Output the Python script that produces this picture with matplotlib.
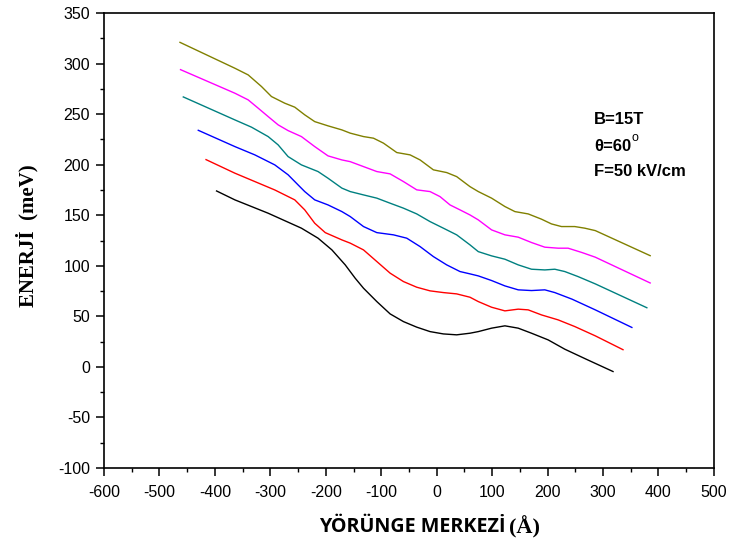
import matplotlib
matplotlib.use("Agg")
import matplotlib.pyplot as plt
from matplotlib.ticker import MultipleLocator

plt.rcParams["axes.unicode_minus"] = False

# Orbit centre (Å) and energy (meV) for each level
black_x = [-397, -364, -304, -244, -214, -189, -165, -147, -132, -108, -84, -60, -36, -12, 12, 36, 60, 75, 99, 123, 147, 171, 201, 231, 270, 318]
black_y = [174, 165.2, 152, 137.2, 127.3, 115.7, 100.9, 87.7, 77.8, 64.6, 52.4, 44.8, 39.3, 34.9, 32.6, 31.7, 33.3, 34.9, 38.3, 40.6, 38.3, 33.3, 26.7, 17.5, 7.5, -4.6]

red_x = [-416, -364, -328, -292, -256, -238, -220, -201, -171, -156, -132, -108, -84, -60, -36, -12, 12, 36, 60, 75, 99, 123, 147, 165, 189, 219, 249, 286, 336]
red_y = [205, 191.6, 183.3, 175, 165.2, 155.3, 142.1, 132.8, 125.6, 122.4, 115.7, 104.2, 92.7, 84.4, 78.8, 75.2, 73.5, 72.2, 68.9, 64.6, 59, 55.4, 57.1, 56.4, 51.4, 46.5, 39.9, 30.7, 17]

blue_x = [-430, -364, -328, -292, -268, -250, -238, -220, -196, -171, -156, -132, -108, -78, -54, -30, -6, 18, 42, 60, 75, 99, 123, 147, 171, 195, 213, 244, 286, 352]
blue_y = [234, 217.9, 209.7, 199.8, 190, 180, 173.4, 165.2, 160.2, 153.6, 148.7, 138.8, 132.8, 130.6, 127.3, 119, 109.1, 100.9, 94.3, 92, 90, 85.4, 80.1, 76.2, 75.5, 76.2, 73.5, 67, 56.4, 39]

teal_x = [-457, -364, -334, -304, -286, -268, -244, -214, -196, -171, -156, -132, -108, -84, -60, -36, -12, 12, 36, 60, 75, 99, 123, 147, 171, 195, 213, 231, 255, 286, 379]
teal_y = [267, 244.3, 237.1, 227.8, 219.6, 208, 199.8, 193.2, 186.6, 176.8, 173.4, 170.1, 166.9, 161.9, 157, 151.3, 143.7, 137.2, 130.6, 120.7, 114, 109.8, 106.5, 100.9, 96.6, 95.9, 96.6, 94.3, 89.3, 82.1, 58.5]

magenta_x = [-462, -364, -340, -322, -304, -286, -268, -244, -220, -196, -171, -156, -132, -108, -84, -60, -36, -12, 6, 24, 42, 60, 75, 99, 123, 147, 171, 195, 219, 237, 262, 286, 385]
magenta_y = [294, 270.7, 264.1, 255.9, 247.6, 239.4, 233.7, 227.8, 217.9, 208.7, 204.7, 203, 198.1, 193.2, 190.9, 183.3, 175.1, 173.4, 168.4, 160.2, 155.3, 150.3, 145.4, 135.5, 130.6, 128.3, 123, 118.4, 117.4, 117.4, 113.1, 108.5, 83]

olive_x = [-463, -364, -340, -316, -298, -274, -256, -238, -220, -196, -171, -156, -132, -114, -96, -72, -48, -30, -6, 18, 36, 60, 75, 99, 123, 141, 165, 189, 207, 225, 249, 267, 286, 385]
olive_y = [321, 295.4, 288.8, 277.3, 267.4, 260.8, 256.9, 249.3, 242.6, 238.4, 234.4, 231.2, 227.8, 226.2, 221.3, 212, 209.7, 204.7, 194.9, 192.2, 188.2, 178.3, 173.4, 166.9, 158.6, 153.6, 151.3, 146.1, 141.4, 138.8, 138.8, 137.2, 134.8, 110]

x_ticks = [-600, -500, -400, -300, -200, -100, 0, 100, 200, 300, 400, 500]
y_ticks = [-100, -50, 0, 50, 100, 150, 200, 250, 300, 350]

curves = [
    (black_x, black_y, "#000000"),
    (red_x, red_y, "#FF0000"),
    (blue_x, blue_y, "#0000FF"),
    (teal_x, teal_y, "#008080"),
    (magenta_x, magenta_y, "#FF00FF"),
    (olive_x, olive_y, "#808000"),
]

fig = plt.figure(figsize=(7.33, 5.52), dpi=100)
ax = fig.add_axes([0.1419, 0.1522, 0.8321, 0.8242])

for xs, ys, c in curves:
    ax.plot(xs, ys, color=c, lw=1.0, solid_joinstyle="round")

ax.set_xlim(-600, 500)
ax.set_ylim(-100, 350)
ax.set_xticks(x_ticks)
ax.set_yticks(y_ticks)
ax.xaxis.set_minor_locator(MultipleLocator(50))
ax.yaxis.set_minor_locator(MultipleLocator(25))
ax.tick_params(which="major", direction="out", length=6, width=1.1,
               labelsize=11.5, pad=4, top=False, right=False)
ax.tick_params(axis="x", which="major", pad=6)
ax.tick_params(which="minor", direction="out", length=3, width=1.0,
               top=False, right=False)
for lbl in ax.get_xticklabels() + ax.get_yticklabels():
    lbl.set_fontfamily("Liberation Sans")
for s in ax.spines.values():
    s.set_linewidth(1.2)

# Parameters of the calculation
x0 = 594 / 733
fig.text(x0, 1 - 120 / 552, "B=15T", fontsize=12, fontweight="bold",
         family="Liberation Sans", va="center", ha="left")
theta = fig.text(x0, 1 - 146 / 552, "θ=60", fontsize=12, fontweight="bold",
                 family="Liberation Sans", va="center", ha="left")
fig.text(x0, 1 - 172 / 552, "F=50 kV/cm", fontsize=12, fontweight="bold",
         family="Liberation Sans", va="center", ha="left")

fig.canvas.draw()
bb = theta.get_window_extent().transformed(fig.transFigure.inverted())
fig.text(bb.x1 + 0.5 / 733, bb.y1 + 0.5 / 552, "o", fontsize=9,
         family="Liberation Sans", va="center", ha="left")

# Axis titles
fig.text(27 / 733, 1 - 236 / 552, "ENERJİ  (meV)", rotation=90, fontsize=15,
         fontweight="bold", family="Liberation Serif", va="center", ha="center")
fig.text(506 / 733, 1 - 527 / 552, "YÖRÜNGE MERKEZİ", fontsize=14.2,
         fontweight="bold", family="Open Sans", va="center", ha="right")
fig.text(509 / 733, 1 - 527 / 552, "(Å)", fontsize=16,
         fontweight="bold", family="Liberation Serif", va="center", ha="left")

fig.savefig("out.png", dpi=100)
